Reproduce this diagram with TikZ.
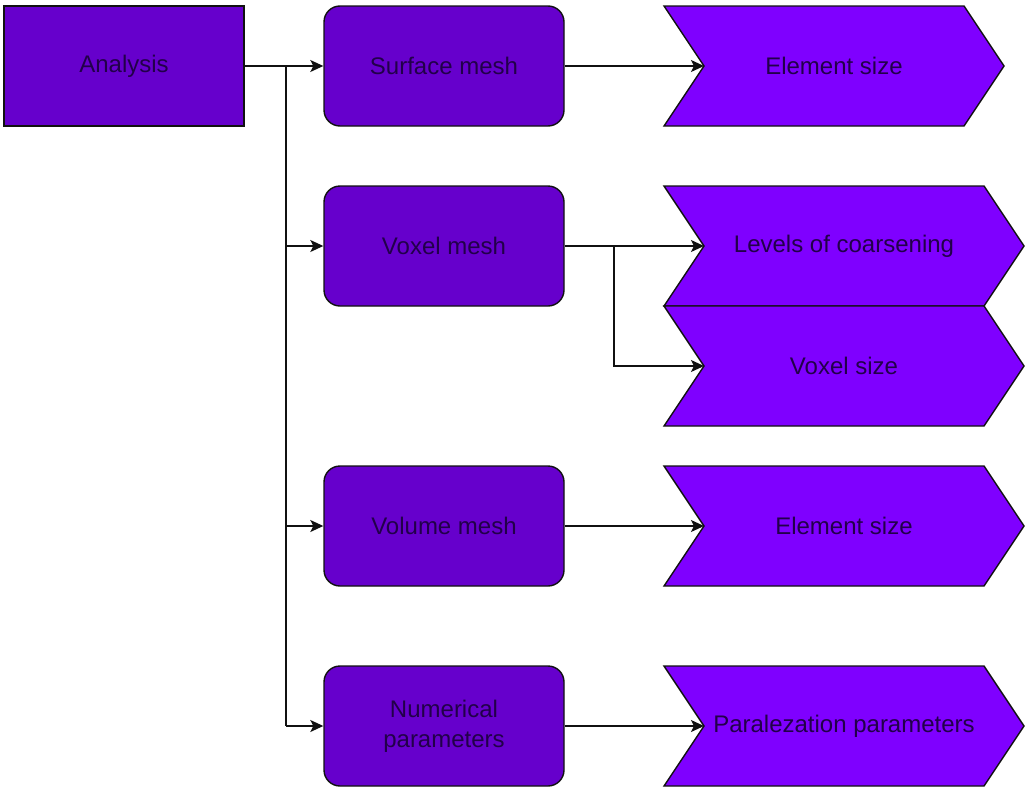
\documentclass[tikz,border=0pt]{standalone}
\usepackage{fontspec}
\setmainfont{Liberation Sans}
\usetikzlibrary{arrows.meta}
\definecolor{boxfill}{HTML}{6600CC}
\definecolor{chevfill}{HTML}{7F00FF}
\definecolor{labelink}{HTML}{22004A}
\definecolor{edge}{HTML}{111111}

\tikzset{
  basebox/.style={draw=edge, line width=1.4pt, text=labelink,
    minimum width=240pt, minimum height=120pt, inner sep=0pt, align=center,
    font=\fontsize{24}{30}\selectfont},
  plainbox/.style={basebox, fill=boxfill},
  roundbox/.style={basebox, fill=boxfill, rounded corners=16pt},
  chevshape/.style={draw=edge, line width=1.4pt, fill=chevfill, line join=miter},
  chevtext/.style={text=labelink, inner sep=0pt, font=\fontsize{24}{30}\selectfont},
  link/.style={draw=edge, line width=1.4pt,
    -{Stealth[length=13pt, width=12pt, inset=3pt]}},
  trunk/.style={draw=edge, line width=1.4pt}
}

% chevron: name, left x, centre y, width, label
\newcommand{\chevron}[5]{%
  \path[chevshape] (#2,{#3-60}) -- ({#2+#4-40},{#3-60}) -- ({#2+#4},#3)
    -- ({#2+#4-40},{#3+60}) -- (#2,{#3+60}) -- ({#2+40},#3) -- cycle;
  \node[chevtext] (#1) at ({#2+#4/2},#3) {#5};
  \coordinate (#1-in) at ({#2+40},#3);
}

\begin{document}
\begin{tikzpicture}[x=1pt, y=-1pt]
  \useasboundingbox (0,0) rectangle (1025,790);

  % root and first-level steps
  \node[plainbox] (analysis) at (124,66) {Analysis};
  \node[roundbox] (surface) at (444,66) {Surface mesh};
  \node[roundbox] (voxel) at (444,246) {Voxel mesh};
  \node[roundbox] (volume) at (444,526) {Volume mesh};
  \node[roundbox] (numeric) at (444,726) {Numerical\\parameters};

  % parameter chevrons
  \chevron{esurf}{664}{66}{340}{Element size}
  \chevron{levels}{664}{246}{360}{Levels of coarsening}
  \chevron{vsize}{664}{366}{360}{Voxel size}
  \chevron{evol}{664}{526}{360}{Element size}
  \chevron{para}{664}{726}{360}{Paralezation parameters}

  % branching from the root
  \coordinate (split) at (286,66);
  \coordinate (splitend) at (286,726);
  \draw[trunk] (split) -- (splitend);
  \draw[link] (analysis.east) -- (surface.west);
  \draw[link] (split |- voxel.west) -- (voxel.west);
  \draw[link] (split |- volume.west) -- (volume.west);
  \draw[link] (splitend) -- (numeric.west);

  % steps to their parameters
  \draw[link] (surface.east) -- (esurf-in);
  \draw[link] (voxel.east) -- (levels-in);
  \coordinate (vsplit) at (614,246);
  \draw[link] (vsplit) |- (vsize-in);
  \draw[link] (volume.east) -- (evol-in);
  \draw[link] (numeric.east) -- (para-in);
\end{tikzpicture}
\end{document}
